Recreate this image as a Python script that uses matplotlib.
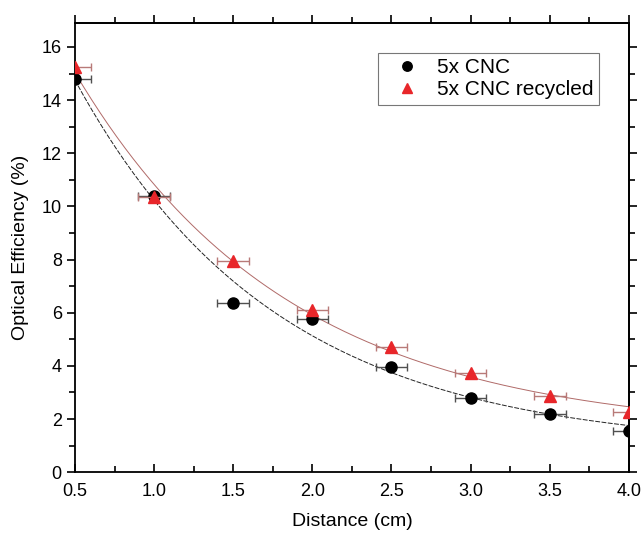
import numpy as np
import matplotlib
matplotlib.use("Agg")
import matplotlib.pyplot as plt
from matplotlib.ticker import MultipleLocator

plt.rcParams['font.family'] = ['Liberation Sans', 'DejaVu Sans']

distance = [0.5, 1.0, 1.5, 2.0, 2.5, 3.0, 3.5, 4.0]
dist_err = [0.1, 0.1, 0.1, 0.1, 0.1, 0.1, 0.1, 0.1]
eff_cnc = [14.8, 10.4, 6.35, 5.75, 3.95, 2.8, 2.2, 1.55]
eff_recycled = [15.25, 10.35, 7.95, 6.1, 4.7, 3.75, 2.85, 2.25]


def exp_fit(x, y):
    ### y = y0 + A*exp(-x/t), best t by scan, A and y0 by least squares
    x = np.asarray(x)
    y = np.asarray(y)
    best = None
    for t in np.linspace(0.2, 5.0, 481):
        M = np.column_stack([np.ones_like(x), np.exp(-x / t)])
        coef, res, _, _ = np.linalg.lstsq(M, y, rcond=None)
        err = np.sum((M @ coef - y) ** 2)
        if best is None or err < best[0]:
            best = (err, t, coef)
    _, t, coef = best
    return lambda xx: coef[0] + coef[1] * np.exp(-xx / t)


fig = plt.figure(figsize=(6.41, 5.36), dpi=100)
ax = fig.add_axes([0.117, 0.119, 0.864, 0.838])

xs = np.linspace(distance[0], distance[-1], 200)
fit_cnc = exp_fit(distance, eff_cnc)
fit_rec = exp_fit(distance, eff_recycled)
ax.plot(xs, fit_cnc(xs), color='#222222', linewidth=0.7, linestyle=(0, (5, 1.5)), zorder=2)
ax.plot(xs, fit_rec(xs), color='#b06a68', linewidth=0.7, zorder=2)

ax.errorbar(distance, eff_cnc, xerr=dist_err, fmt='o', color='black', markersize=8,
            ecolor='#505050', elinewidth=1.0, capsize=3, capthick=1.0,
            label='5x CNC', zorder=4)
ax.errorbar(distance, eff_recycled, xerr=dist_err, fmt='^', color='#e8262a', markersize=9,
            ecolor='#b87a78', elinewidth=1.0, capsize=3, capthick=1.0,
            label='5x CNC recycled', zorder=5)

ax.set_xlim(0.5, 4.0)
ax.set_ylim(0, 16.9)
ax.xaxis.set_major_locator(MultipleLocator(0.5))
ax.xaxis.set_minor_locator(MultipleLocator(0.25))
ax.yaxis.set_major_locator(MultipleLocator(2))
ax.yaxis.set_minor_locator(MultipleLocator(1))
ax.xaxis.set_major_formatter(matplotlib.ticker.FormatStrFormatter('%.1f'))

for s in ax.spines.values():
    s.set_linewidth(1.3)

ax.tick_params(axis='x', which='both', direction='in', top=False, labelsize=13, width=1.2, pad=8)
ax.tick_params(axis='x', which='major', length=6)
ax.tick_params(axis='x', which='minor', length=4)
ax.tick_params(axis='y', which='both', direction='out', right=False, labelsize=13, width=1.2)
ax.tick_params(axis='y', which='major', length=6)
ax.tick_params(axis='y', which='minor', length=4)

### mirrored top/right axes with outward ticks
sec_x = ax.secondary_xaxis('top')
sec_x.xaxis.set_major_locator(MultipleLocator(0.5))
sec_x.xaxis.set_minor_locator(MultipleLocator(0.25))
sec_x.tick_params(which='both', direction='out', labeltop=False, width=1.2)
sec_x.tick_params(which='major', length=6)
sec_x.tick_params(which='minor', length=4)
sec_x.spines['top'].set_linewidth(1.3)
sec_y = ax.secondary_yaxis('right')
sec_y.yaxis.set_major_locator(MultipleLocator(2))
sec_y.yaxis.set_minor_locator(MultipleLocator(1))
sec_y.tick_params(which='both', direction='out', labelright=False, width=1.2)
sec_y.tick_params(which='major', length=6)
sec_y.tick_params(which='minor', length=4)
sec_y.spines['right'].set_linewidth(1.3)

ax.set_xlabel('Distance (cm)', fontsize=14, labelpad=9)
ax.set_ylabel('Optical Efficiency (%)', fontsize=14, labelpad=9)

handles, labels = ax.get_legend_handles_labels()
handles = [h[0] for h in handles]
leg = ax.legend(handles, labels, loc='upper left', bbox_to_anchor=(0.548, 0.933),
                fontsize=15, frameon=True, fancybox=False, borderpad=0.25,
                labelspacing=0.15, handletextpad=0.35, handlelength=2.2,
                borderaxespad=0, markerscale=0.85)
leg.get_frame().set_edgecolor('#555555')
leg.get_frame().set_linewidth(0.8)

plt.savefig('out.png', dpi=100)
plt.close()
